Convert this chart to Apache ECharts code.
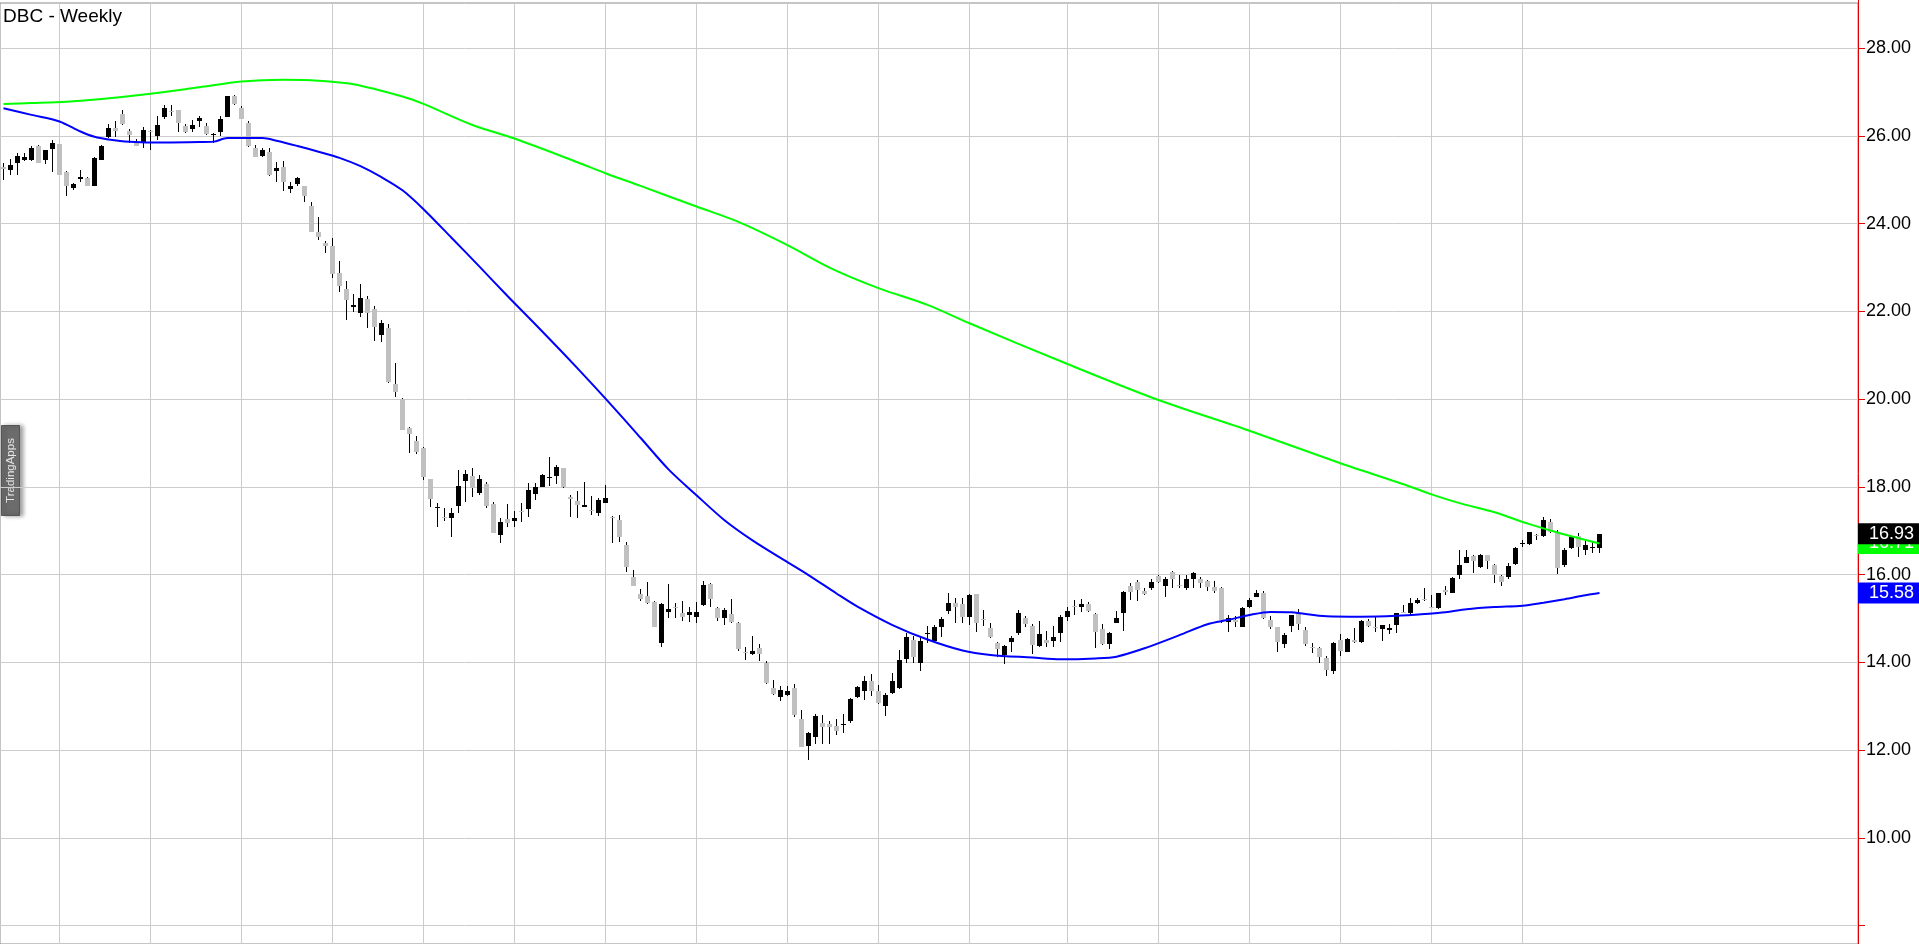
<!DOCTYPE html>
<html>
<head>
<meta charset="utf-8">
<script src="https://cdn.jsdelivr.net/npm/echarts@6/dist/echarts.min.js"></script>
<style>
html,body{margin:0;padding:0;background:#fff;}
#chart{width:1919px;height:944px;}
</style>
</head>
<body>
<div id="chart"></div>
<script>
// Weekly OHLC (week index 0..228)
const opens = [25.29,25.23,25.38,25.45,25.44,25.77,25.45,25.70,25.82,25.18,24.81,25.02,25.04,24.86,25.45,25.97,26.18,26.50,26.12,25.83,
25.85,26.11,26.00,26.44,26.57,26.59,26.23,26.16,26.33,26.23,26.01,26.10,26.44,26.90,26.64,26.30,25.72,25.54,25.64,25.21,
25.29,24.80,24.91,24.85,24.40,23.80,23.55,23.48,22.88,22.50,22.11,21.96,22.28,22.05,21.46,21.62,20.35,20.01,19.35,19.05,
18.89,18.17,17.52,17.32,17.28,17.56,18.14,18.25,17.87,18.06,17.61,16.91,17.26,17.23,17.45,17.49,17.84,18.00,18.21,18.25,
18.42,17.78,17.68,17.55,17.47,17.40,17.64,17.31,17.25,16.67,15.95,15.56,15.51,15.38,14.43,15.15,15.27,15.13,15.09,15.03,
15.31,15.79,15.23,15.00,15.10,14.90,14.24,14.18,14.32,13.99,13.41,13.22,13.26,13.41,12.72,12.09,12.29,12.62,12.59,12.55,
12.59,12.67,13.22,13.35,13.58,13.35,13.01,13.31,13.41,14.07,14.52,13.98,14.64,14.49,14.81,15.16,15.35,15.33,15.03,15.56,
14.99,14.78,14.45,14.17,14.47,14.66,15.00,14.83,14.37,14.52,14.49,14.66,15.04,15.29,15.27,15.33,15.10,14.75,14.42,14.90,
15.12,15.74,15.84,15.63,15.69,15.97,15.73,16.06,15.76,15.69,15.91,15.89,15.86,15.71,15.69,14.93,14.96,14.81,15.27,15.50,
15.59,14.97,14.81,14.41,14.84,15.12,14.74,14.36,14.32,14.11,13.81,14.51,14.24,14.52,14.46,14.94,14.81,14.76,14.74,14.85,
15.14,15.13,15.35,15.44,15.27,15.23,15.65,15.59,15.99,16.27,16.42,16.17,16.45,16.22,15.97,15.95,16.24,16.70,16.70,16.90,
16.88,17.21,16.96,16.22,16.60,16.88,16.55,16.61,16.61];
const highs = [25.38,25.47,25.60,25.62,25.77,25.79,25.68,25.91,25.82,25.21,24.92,25.23,25.07,25.51,25.79,26.27,26.33,26.58,26.15,25.93,
26.21,26.14,26.46,26.71,26.71,26.59,26.27,26.36,26.46,26.30,26.06,26.46,26.91,26.94,26.68,26.33,25.80,25.72,25.72,25.40,
25.42,24.96,25.07,24.86,24.50,24.15,23.61,23.67,23.16,22.70,22.40,22.63,22.35,22.12,21.80,21.71,20.83,20.02,19.37,19.15,
18.92,18.18,17.64,17.51,17.51,18.39,18.39,18.42,18.27,18.12,17.66,17.28,17.61,17.46,17.64,18.08,18.09,18.29,18.67,18.50,
18.43,17.82,17.91,18.10,17.79,17.74,18.04,17.34,17.36,16.74,16.11,15.67,15.84,15.40,15.36,15.79,15.35,15.40,15.27,15.38,
15.86,15.82,15.27,15.23,15.44,14.93,14.36,14.60,14.42,14.04,13.60,13.46,13.46,13.51,12.91,12.42,12.82,12.80,12.67,12.72,
12.82,13.18,13.46,13.69,13.73,13.48,13.31,13.76,14.28,14.68,14.60,14.60,14.83,14.85,15.03,15.59,15.46,15.46,15.56,15.56,
15.19,14.89,14.47,14.39,14.60,15.19,15.06,14.87,14.95,14.72,14.83,15.08,15.27,15.42,15.44,15.38,15.12,14.87,14.70,15.16,
15.63,15.80,15.88,15.69,15.89,16.00,15.94,16.09,15.99,15.99,16.07,15.94,15.88,15.86,15.71,15.08,15.06,15.27,15.46,15.65,
15.63,15.06,14.81,14.66,15.08,15.21,14.80,14.43,14.36,14.14,14.47,14.65,14.55,14.78,14.97,14.98,15.03,14.85,14.87,15.13,
15.31,15.46,15.46,15.69,15.53,15.59,15.74,15.94,16.56,16.56,16.45,16.47,16.45,16.24,15.99,16.26,16.62,16.79,16.98,16.93,
17.31,17.26,17.02,16.60,16.88,16.96,16.77,16.75,16.93];
const lows = [25.00,25.11,25.11,25.42,25.42,25.38,25.36,25.17,25.10,24.62,24.77,24.94,24.85,24.85,25.45,25.95,25.97,26.25,25.85,25.76,
25.73,25.69,25.91,26.38,26.46,26.10,26.06,26.10,26.21,26.02,25.83,26.00,26.43,26.71,26.38,25.74,25.51,25.51,25.09,24.95,
24.75,24.70,24.85,24.50,23.80,23.63,23.34,22.76,22.45,21.80,21.99,21.88,21.63,21.33,21.31,20.36,20.04,19.29,18.78,18.75,
18.16,17.53,17.08,17.23,16.85,17.41,17.66,17.76,17.82,17.51,16.94,16.73,17.08,17.08,17.21,17.32,17.70,17.99,18.02,18.07,
17.97,17.31,17.28,17.53,17.36,17.34,17.63,16.73,16.75,16.07,15.73,15.41,15.33,14.80,14.34,15.00,15.00,14.95,14.93,14.90,
15.28,15.27,14.95,14.85,14.90,14.27,14.05,14.17,14.04,13.51,13.26,13.13,13.23,12.76,12.06,11.77,12.14,12.14,12.14,12.34,
12.38,12.62,13.18,13.14,13.23,13.05,12.78,13.29,13.39,13.99,13.98,13.81,14.43,14.45,14.58,15.10,14.90,14.90,14.85,14.70,
14.83,14.55,14.13,13.96,14.24,14.62,14.81,14.19,14.34,14.34,14.34,14.47,14.95,15.08,15.15,15.15,14.32,14.39,14.30,14.90,
14.72,15.42,15.41,15.54,15.66,15.80,15.50,15.69,15.69,15.66,15.69,15.69,15.63,15.57,14.90,14.70,14.80,14.80,15.25,15.48,
14.98,14.75,14.24,14.32,14.70,14.74,14.37,14.22,13.98,13.69,13.73,14.14,14.23,14.43,14.43,14.81,14.70,14.49,14.65,14.68,
15.12,15.06,15.33,15.41,15.23,15.21,15.53,15.57,15.91,16.26,16.04,16.14,16.12,15.82,15.74,15.89,16.22,16.64,16.67,16.80,
16.85,16.96,16.01,16.17,16.58,16.41,16.45,16.49,16.49];
const closes = [25.24,25.34,25.54,25.52,25.72,25.39,25.67,25.85,25.12,24.86,24.91,25.07,24.86,25.50,25.77,26.18,26.12,26.28,26.03,25.76,
26.14,26.08,26.25,26.64,26.55,26.29,26.10,26.25,26.40,26.05,26.05,26.38,26.91,26.73,26.39,25.76,25.53,25.68,25.11,25.26,
24.94,24.86,25.03,24.62,23.82,23.69,23.50,22.85,22.58,22.26,22.15,22.30,21.97,21.65,21.74,20.40,20.17,19.30,19.21,18.80,
18.22,17.73,17.55,17.29,17.40,18.02,18.29,17.97,18.17,17.56,16.96,17.20,17.18,17.28,17.43,17.93,18.00,18.27,18.23,18.45,
17.99,17.72,17.58,17.59,17.46,17.70,17.74,17.28,16.86,16.17,15.75,15.44,15.35,14.81,15.33,15.22,15.25,15.03,15.15,15.15,
15.76,15.44,15.00,15.19,14.93,14.30,14.21,14.27,14.19,13.54,13.28,13.38,13.35,12.80,12.08,12.40,12.78,12.53,12.52,12.44,
12.60,13.16,13.43,13.58,13.35,13.08,13.26,13.57,14.05,14.58,14.13,14.49,14.66,14.81,14.99,15.36,15.27,15.03,15.54,14.89,
14.96,14.57,14.30,14.37,14.55,15.12,14.87,14.39,14.65,14.45,14.58,15.03,15.18,15.27,15.33,15.18,14.70,14.42,14.68,15.00,
15.61,15.61,15.66,15.56,15.83,15.84,15.89,15.89,15.74,15.89,16.04,15.80,15.71,15.63,14.96,15.00,14.93,15.23,15.42,15.59,
15.00,14.81,14.47,14.62,15.08,14.87,14.42,14.33,14.13,13.82,14.45,14.27,14.53,14.46,14.94,14.83,14.79,14.85,14.79,15.13,
15.12,15.35,15.42,15.42,15.26,15.57,15.61,15.92,16.22,16.41,16.32,16.45,16.32,15.99,15.84,16.20,16.60,16.73,16.98,16.89,
17.25,16.98,16.14,16.56,16.85,16.64,16.68,16.62,16.93];

// Green moving average: week index / value
const greenIdx  = [0,4,9,14,21,28,34,40,45,50,57,60,67,73,82,86,91,99,105,112,118,125,132,138,152,165,178,191,200,204,208,213,218,222,228];
const greenVals = [26.73,26.75,26.78,26.84,26.96,27.11,27.24,27.28,27.26,27.18,26.90,26.73,26.25,25.94,25.40,25.15,24.86,24.39,24.04,23.51,23.00,22.53,22.15,21.73,20.80,19.98,19.28,18.54,18.06,17.83,17.63,17.42,17.15,16.96,16.71];

// Blue moving average: week index / value
const blueIdx  = [0,4,8,11,13,15,18,23,28,30,32,37,39,42,45,48,51,54,57,60,64,68,72,76,80,84,88,91,95,99,103,107,111,115,119,122,127,132,137,141,147,151,156,159,163,168,172,175,178,181,184,189,194,199,203,206,209,213,217,220,223,226,228];
const blueVals = [26.63,26.48,26.33,26.10,25.98,25.92,25.87,25.85,25.86,25.87,25.95,25.95,25.89,25.77,25.64,25.50,25.31,25.06,24.76,24.33,23.68,23.02,22.35,21.70,21.04,20.36,19.66,19.12,18.40,17.81,17.24,16.78,16.38,15.99,15.57,15.27,14.85,14.52,14.27,14.17,14.11,14.07,14.09,14.13,14.32,14.62,14.87,14.97,15.08,15.15,15.14,15.05,15.04,15.06,15.10,15.14,15.21,15.26,15.29,15.36,15.44,15.53,15.58];

// Quarter gridline positions (week index)
const quarterIdx = [8,21,34,47,60,73,86,99,112,125,138,152,165,178,191,204,217];

// Price axis ticks
const yTicks = [8,10,12,14,16,18,20,22,24,26,28];

const title = 'DBC - Weekly';
const watermark = 'TradingApps';

const candleData = opens.map((o, i) => [i, o, closes[i], lows[i], highs[i]]);
const greenData = greenIdx.map((k, i) => [k, greenVals[i]]);
const blueData = blueIdx.map((k, i) => [k, blueVals[i]]);

const lastClose = closes[closes.length - 1];
const lastGreen = greenVals[greenVals.length - 1];
const lastBlue = blueVals[blueVals.length - 1];

function renderCandle(params, api) {
  const k = api.value(0), o = api.value(1), c = api.value(2), l = api.value(3), h = api.value(4);
  const pO = api.coord([k, o]), pC = api.coord([k, c]);
  const pH = api.coord([k, h]), pL = api.coord([k, l]);
  const cx = pO[0];
  const up = c >= o;
  const top = Math.round(Math.min(pO[1], pC[1]));
  const bot = Math.round(Math.max(pO[1], pC[1]));
  const bh = Math.max(1, bot - top);
  const wx = Math.floor(cx);
  const bx = Math.round(cx - 2.5);
  const wt = Math.round(pH[1]);
  const wb = Math.max(wt + 1, Math.round(pL[1]));
  return {
    type: 'group',
    children: [
      { type: 'rect', shape: { x: wx, y: wt, width: 1, height: wb - wt }, style: { fill: '#000' } },
      { type: 'rect', shape: { x: bx, y: top, width: 5, height: bh }, style: { fill: up ? '#000000' : '#c0c0c0' } }
    ]
  };
}

const tagLabel = (bg) => ({
  show: true, position: 'end', distance: 0,
  formatter: p => Number(p.value).toFixed(2),
  color: '#ffffff', backgroundColor: bg,
  fontSize: 18, fontFamily: 'Liberation Sans', lineHeight: 18,
  padding: [2, 6, 1, 11]
});

const chart = echarts.init(document.getElementById('chart'), null, { renderer: 'canvas' });
chart.setOption({
  animation: false,
  backgroundColor: '#ffffff',
  title: {
    text: title, left: 3, top: 7, padding: 0,
    textStyle: { fontSize: 19, fontWeight: 'normal', color: '#000', fontFamily: 'Liberation Sans' }
  },
  grid: { left: 0, top: 3, right: 61, bottom: 0, show: true, borderColor: '#8a8a8a', borderWidth: 1, backgroundColor: '#fff' },
  xAxis: { type: 'value', min: -0.5, max: 264.9286, show: false },
  yAxis: {
    type: 'value', position: 'right', min: 7.58, max: 29.03,
    minInterval: 2, maxInterval: 2, splitNumber: 10,
    axisLine: { show: true, onZero: false, lineStyle: { color: '#e00000', width: 1 } },
    axisTick: { show: true, length: 7, customValues: yTicks, lineStyle: { color: '#e00000' } },
    axisLabel: {
      margin: 8, color: '#000', fontSize: 18, fontFamily: 'Liberation Sans',
      customValues: yTicks,
      formatter: v => (v < 9 || v > 28.5) ? '' : v.toFixed(2)
    },
    splitLine: { show: true, lineStyle: { color: '#cccccc', width: 1 } }
  },
  series: [
    {
      type: 'custom', name: 'DBC', renderItem: renderCandle, data: candleData, z: 2,
      encode: { x: 0, y: [1, 2, 3, 4] }, silent: true
    },
    {
      type: 'line', name: 'MA blue', data: blueData, z: 3, showSymbol: false, smooth: 0.3, silent: true,
      lineStyle: { color: '#0000ff', width: 2 }, clip: false,
      markLine: {
        silent: true, symbol: 'none', z: 1, animation: false,
        label: { show: false },
        lineStyle: { color: '#cccccc', width: 1, type: 'solid' },
        data: quarterIdx.map(k => ({ xAxis: k }))
      }
    },
    {
      type: 'line', name: 'MA green', data: greenData, z: 3, showSymbol: false, smooth: 0.3, silent: true,
      lineStyle: { color: '#00ff00', width: 2 }, clip: false,
      markLine: {
        silent: true, symbol: 'none', animation: false, z: 10,
        lineStyle: { color: 'rgba(0,0,0,0)', width: 0 },
        data: [
          { yAxis: lastBlue, label: tagLabel('#0000ff') },
          { yAxis: lastGreen, label: tagLabel('#00ff00') },
          { yAxis: lastClose, label: tagLabel('#000000') }
        ]
      }
    }
  ],
  graphic: [
    { type: 'line', z: 50, shape: { x1: 1858.5, y1: 0, x2: 1858.5, y2: 4 }, style: { stroke: '#e00000', lineWidth: 1 } },
    {
      type: 'group', left: 1, top: 425, z: 100,
      children: [
        { type: 'rect', shape: { x: 0, y: 0, width: 18, height: 90 },
          style: { fill: '#6c6c6c', stroke: '#555555', lineWidth: 1, shadowBlur: 4, shadowOffsetX: 3, shadowOffsetY: 0, shadowColor: 'rgba(0,0,0,0.35)' } },
        { type: 'text', x: 9, y: 45, rotation: Math.PI / 2,
          style: { text: watermark, fill: '#e6e6e6', font: '11.5px "Liberation Sans"', align: 'center', verticalAlign: 'middle' } }
      ]
    }
  ]
});
</script>
</body>
</html>
